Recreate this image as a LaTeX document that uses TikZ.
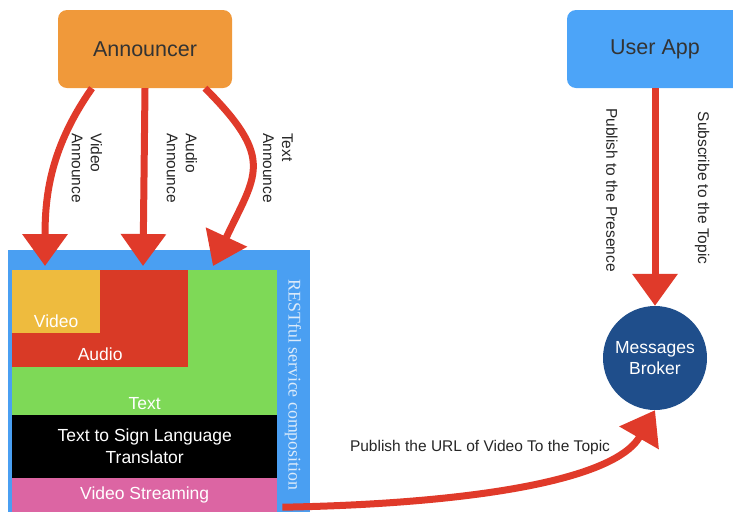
\documentclass[tikz,border=0pt]{standalone}
\usepackage{fontspec}
\setmainfont{Liberation Sans}
\newfontfamily\restfont{Liberation Serif}
\usepackage{xcolor}
\usepackage{tikz}
\usetikzlibrary{arrows.meta}
\usetikzlibrary{positioning}

\definecolor{announcerorange}{HTML}{F0993A}
\definecolor{appblue}{HTML}{4CA4F8}
\definecolor{restblue}{HTML}{4A9FF2}
\definecolor{textgreen}{HTML}{7ED957}
\definecolor{audiored}{HTML}{D93A26}
\definecolor{videoyellow}{HTML}{EEBB3E}
\definecolor{streampink}{HTML}{DC65A3}
\definecolor{brokerblue}{HTML}{1F4E8B}
\definecolor{crayon}{HTML}{E03A2A}
\definecolor{restlabel}{HTML}{DCEBFA}

\tikzstyle{actor} = [rectangle, rounded corners=9pt, minimum width=174pt,
    minimum height=78pt, text=black!80, font=\fontsize{21.5}{24}\selectfont]
\tikzstyle{layer} = [rectangle, anchor=north west, inner sep=0pt]
\tikzstyle{layerlabel} = [text=white, align=center, font=\fontsize{17.5}{21}\selectfont]
\tikzstyle{note} = [text=black!85, font=\fontsize{15.5}{19}\selectfont]
\tikzstyle{line} = [draw=crayon, line width=7pt,
    -{Triangle[width=44pt,length=32pt]}]

\begin{document}
\begin{tikzpicture}[x=1pt, y=-1pt]
    \useasboundingbox (0,0) rectangle (733,515);
    % Place nodes
    \node [actor, fill=announcerorange] (announcer) at (145,49) {Announcer};
    \node [actor, fill=appblue, minimum width=176pt] (userapp) at (655,49) {User App};

    \node [layer, fill=restblue, minimum width=302pt, minimum height=262pt] (rest) at (8,250) {};
    \node [layer, fill=textgreen, minimum width=265pt, minimum height=145pt] (text) at (12,270) {};
    \node [layer, fill=audiored, minimum width=176pt, minimum height=97pt] (audio) at (12,270) {};
    \node [layer, fill=videoyellow, minimum width=88pt, minimum height=63pt] (video) at (12,270) {};
    \node [layer, fill=black, minimum width=265pt, minimum height=63pt, layerlabel, font=\fontsize{17.5}{22}\selectfont] (translator) at (12,415) {Text to Sign Language\\Translator};
    \node [layer, fill=streampink, minimum width=265pt, minimum height=34pt, layerlabel] (streaming) at (12,478) {Video Streaming};

    \node [layerlabel, anchor=center] (videolabel) at ([yshift=12pt]video.south) {Video};
    \node [layerlabel, anchor=center] (audiolabel) at ([yshift=13pt]audio.south) {Audio};
    \node [layerlabel, anchor=center] (textlabel) at ([yshift=12pt]text.south) {Text};
    \node [rotate=-90, text=restlabel, font=\restfont\fontsize{17.8}{20}\selectfont] (restlabel) at (293,385) {RESTful service composition};

    \node [circle, fill=brokerblue, minimum size=104pt, inner sep=0pt, layerlabel] (broker) at (655,358) {Messages\\Broker};

    \node [note, rotate=-90, align=left] (videonote) at (87,168) {Video\\Announce};
    \node [note, rotate=-90, align=left] (audionote) at (182,168) {Audio\\Announce};
    \node [note, rotate=-90, align=left] (textnote) at (278,168) {Text\\Announce};
    \node [note, rotate=-90] (presencenote) at (612,190) {Publish to the Presence};
    \node [note, rotate=-90] (topicnote) at (702,188) {Subscribe to the Topic};
    \node [note] (urlnote) at (480,447) {Publish the URL of Video To the Topic};

    % Draw edges
    \path [line] ([xshift=-53pt]announcer.south) to[out=-125, in=90] ([xshift=37pt,yshift=-16pt]rest.north west);
    \path [line] (announcer.south) -- ([xshift=135pt,yshift=-16pt]rest.north west);
    \path [line] ([xshift=60pt]announcer.south) to[out=-45, in=65, looseness=1.45] ([xshift=205pt,yshift=-16pt]rest.north west);
    \path [line] (userapp.south) -- (broker.north);
    \path [line] ([xshift=5pt,yshift=-12pt]streaming.east) to[out=1, in=-120, out distance=170pt, in distance=85pt] (broker.south);

\end{tikzpicture}
\end{document}
